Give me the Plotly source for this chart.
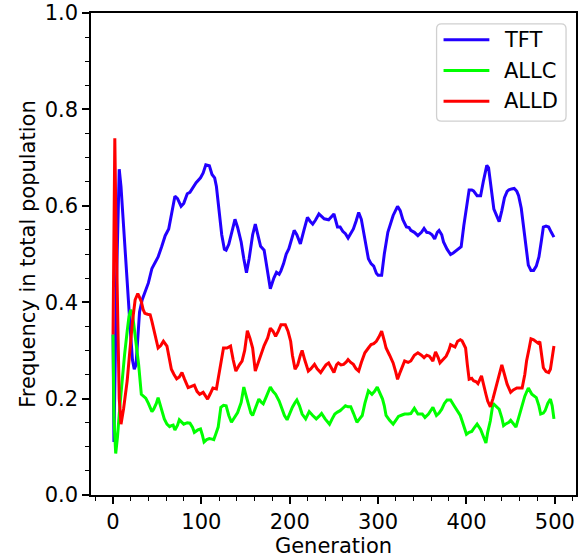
import plotly.graph_objects as go

series_names = ["TFT", "ALLC", "ALLD"]
series_colors = ["#2200ff", "#00ff00", "#ff0000"]

tft_gen = [0,1,4,7,9,13,17,20,22,24,26,28,30,33,36,40,44,48,51,55,59,63,66,70,73,77,80,84,87,91,94,99,102,105,109,112,115,117,120,123,126,128,131,134,138,141,145,148,151,154,158,161,164,167,171,174,178,182,185,188,190,193,196,199,202,205,208,212,216,220,223,226,229,233,236,239,244,247,250,254,257,260,263,266,269,272,275,278,281,283,286,289,292,295,298,300,304,307,311,314,317,322,325,328,332,335,337,341,345,349,352,355,358,361,364,367,369,372,374,378,382,385,388,391,394,397,400,403,406,408,412,416,419,423,425,428,431,434,437,440,443,446,448,451,454,457,459,462,464,467,470,473,476,479,482,485,487,490,493,496,499]
tft_val = [0.333,0.11,0.45,0.676,0.64,0.52,0.40,0.33,0.28,0.261,0.27,0.34,0.38,0.405,0.42,0.44,0.47,0.485,0.494,0.515,0.538,0.552,0.58,0.62,0.615,0.599,0.605,0.625,0.628,0.64,0.648,0.658,0.668,0.685,0.683,0.665,0.658,0.64,0.593,0.54,0.51,0.508,0.52,0.54,0.572,0.555,0.525,0.49,0.461,0.49,0.54,0.562,0.54,0.516,0.508,0.47,0.428,0.45,0.462,0.458,0.465,0.48,0.5,0.511,0.53,0.549,0.54,0.521,0.549,0.576,0.568,0.562,0.57,0.583,0.578,0.573,0.571,0.576,0.583,0.556,0.556,0.547,0.542,0.533,0.542,0.552,0.568,0.586,0.572,0.552,0.52,0.49,0.48,0.475,0.46,0.456,0.456,0.5,0.545,0.565,0.58,0.599,0.59,0.571,0.556,0.555,0.549,0.545,0.538,0.545,0.553,0.545,0.544,0.54,0.531,0.545,0.549,0.54,0.525,0.51,0.499,0.502,0.506,0.51,0.515,0.559,0.6,0.633,0.633,0.631,0.621,0.621,0.65,0.684,0.679,0.63,0.593,0.58,0.567,0.59,0.617,0.63,0.633,0.635,0.636,0.63,0.621,0.595,0.566,0.52,0.477,0.466,0.466,0.475,0.494,0.53,0.556,0.558,0.556,0.545,0.535]

allc_gen = [0,1,3,5,8,10,13,16,18,20,22,24,27,29,32,35,37,40,44,46,49,51,53,56,58,61,64,66,68,70,73,75,78,80,84,87,90,92,96,99,101,103,106,109,112,114,116,119,122,125,128,131,134,137,141,145,148,150,153,156,158,162,165,168,170,173,176,178,181,184,188,191,194,197,200,203,206,208,211,214,218,222,226,230,233,236,240,245,248,251,254,257,260,263,266,269,272,276,279,282,285,289,293,296,299,302,305,307,309,313,317,320,323,327,330,334,337,341,345,350,353,357,362,366,369,372,375,378,382,386,390,393,395,398,400,403,406,409,412,416,419,422,424,427,430,433,437,440,442,445,448,450,452,456,459,463,466,470,474,479,482,484,487,489,492,495,497,499]
allc_val = [0.333,0.16,0.086,0.12,0.19,0.237,0.29,0.34,0.37,0.384,0.375,0.346,0.30,0.27,0.209,0.205,0.201,0.19,0.173,0.178,0.19,0.202,0.19,0.171,0.158,0.147,0.142,0.144,0.145,0.135,0.145,0.156,0.15,0.147,0.15,0.149,0.14,0.130,0.135,0.137,0.125,0.110,0.115,0.117,0.116,0.115,0.125,0.141,0.182,0.186,0.185,0.165,0.151,0.16,0.171,0.192,0.224,0.21,0.189,0.17,0.165,0.185,0.199,0.192,0.189,0.202,0.215,0.224,0.215,0.209,0.195,0.178,0.165,0.156,0.17,0.182,0.192,0.197,0.185,0.168,0.158,0.173,0.165,0.158,0.163,0.169,0.158,0.147,0.158,0.168,0.172,0.175,0.18,0.185,0.183,0.183,0.17,0.151,0.158,0.165,0.19,0.216,0.209,0.215,0.224,0.21,0.199,0.185,0.165,0.155,0.147,0.155,0.163,0.166,0.168,0.168,0.169,0.18,0.168,0.168,0.161,0.168,0.182,0.165,0.17,0.178,0.19,0.197,0.197,0.185,0.175,0.165,0.154,0.138,0.126,0.13,0.132,0.14,0.147,0.136,0.12,0.108,0.13,0.154,0.19,0.185,0.178,0.16,0.144,0.148,0.151,0.155,0.151,0.141,0.16,0.189,0.205,0.222,0.209,0.202,0.185,0.168,0.17,0.175,0.19,0.199,0.185,0.158]

alld_gen = [0,1,2,3,5,7,9,12,16,19,22,25,28,30,32,34,36,39,42,44,46,48,51,54,57,61,63,66,69,72,75,78,81,85,88,92,95,98,102,105,107,110,113,117,120,122,125,129,133,136,139,143,146,149,152,155,158,161,165,168,171,175,178,181,184,187,190,195,198,201,203,206,209,212,214,217,221,224,228,231,235,238,241,244,247,250,253,255,258,261,264,266,269,272,275,278,281,285,289,292,295,298,301,304,307,309,313,317,320,322,325,328,330,334,337,341,345,349,352,355,358,362,365,368,370,373,377,380,382,384,387,390,393,395,399,401,403,406,408,411,413,417,419,422,424,427,430,433,437,440,443,446,450,453,457,460,463,466,468,471,473,476,478,481,483,485,487,490,493,495,497,499]
alld_val = [0.333,0.6,0.74,0.6,0.35,0.2,0.147,0.18,0.237,0.3,0.36,0.405,0.418,0.41,0.401,0.385,0.377,0.375,0.374,0.36,0.343,0.33,0.305,0.31,0.319,0.309,0.29,0.261,0.25,0.241,0.245,0.254,0.24,0.223,0.225,0.228,0.215,0.209,0.213,0.205,0.199,0.21,0.222,0.22,0.25,0.278,0.305,0.305,0.309,0.28,0.257,0.27,0.278,0.3,0.341,0.325,0.305,0.257,0.278,0.298,0.31,0.326,0.346,0.34,0.329,0.34,0.353,0.353,0.34,0.319,0.29,0.261,0.27,0.29,0.30,0.28,0.257,0.262,0.271,0.262,0.254,0.262,0.27,0.274,0.265,0.254,0.27,0.274,0.27,0.271,0.276,0.281,0.275,0.271,0.262,0.257,0.275,0.295,0.305,0.312,0.314,0.319,0.328,0.34,0.32,0.305,0.29,0.274,0.255,0.24,0.255,0.27,0.278,0.275,0.278,0.29,0.295,0.29,0.285,0.29,0.288,0.278,0.297,0.285,0.274,0.28,0.288,0.3,0.312,0.31,0.307,0.319,0.322,0.32,0.305,0.27,0.24,0.242,0.237,0.235,0.231,0.247,0.23,0.209,0.195,0.183,0.2,0.223,0.25,0.27,0.25,0.23,0.213,0.218,0.222,0.222,0.222,0.25,0.278,0.305,0.324,0.322,0.319,0.315,0.318,0.29,0.264,0.256,0.254,0.261,0.285,0.309]

x_ticks = [0, 100, 200, 300, 400, 500]
y_ticks = [0.0, 0.2, 0.4, 0.6, 0.8, 1.0]

gens = [tft_gen, allc_gen, alld_gen]
vals = [tft_val, allc_val, alld_val]

FONT = "DejaVu Sans"
FS = 21
fig = go.Figure()
for name, color, g, v in zip(series_names, series_colors, gens, vals):
    fig.add_trace(go.Scatter(x=g, y=v, mode="lines", name=name,
                             line=dict(color=color, width=3), showlegend=False))

axis_common = dict(showline=True, linecolor="black", linewidth=1.5, mirror=True,
                   ticks="outside", ticklen=7, tickwidth=1.5, tickcolor="black",
                   showgrid=False, zeroline=False, ticklabeloverflow="allow",
                   tickfont=dict(family=FONT, size=FS, color="black"))
fig.update_xaxes(range=[-24.95, 523.95], tickvals=x_ticks,
                 minor=dict(ticks="outside", ticklen=4, tickwidth=1.2, tickcolor="black", dtick=20, tick0=0, showgrid=False),
                 title=dict(text="Generation", font=dict(family=FONT, size=FS, color="black"), standoff=4),
                 **axis_common)
fig.update_yaxes(range=[0, 1], tickvals=y_ticks, tickformat=".1f",
                 minor=dict(ticks="outside", ticklen=4, tickwidth=1.2, tickcolor="black", dtick=0.05, tick0=0, showgrid=False),
                 title=dict(text="Frequency in total population", font=dict(family=FONT, size=FS, color="black"), standoff=3),
                 **axis_common)

# legend drawn in paper coordinates
L, T, W, H = 91, 9, 487, 486
def px2x(px):
    return (px - L) / W
def py2y(py):
    return (T + H - py) / H

x0, x1, y0, y1, r = 438, 568, 20, 118, 5
path = (f"M {px2x(x0+r)},{py2y(y0)} L {px2x(x1-r)},{py2y(y0)} Q {px2x(x1)},{py2y(y0)} {px2x(x1)},{py2y(y0+r)} "
        f"L {px2x(x1)},{py2y(y1-r)} Q {px2x(x1)},{py2y(y1)} {px2x(x1-r)},{py2y(y1)} "
        f"L {px2x(x0+r)},{py2y(y1)} Q {px2x(x0)},{py2y(y1)} {px2x(x0)},{py2y(y1-r)} "
        f"L {px2x(x0)},{py2y(y0+r)} Q {px2x(x0)},{py2y(y0)} {px2x(x0+r)},{py2y(y0)} Z")
fig.add_shape(type="path", path=path, xref="paper", yref="paper",
              line=dict(color="#d0d0d0", width=1.3), fillcolor="rgba(255,255,255,0.85)")
rows = [36, 67, 98]
for name, color, ry in zip(series_names, series_colors, rows):
    fig.add_shape(type="line", xref="paper", yref="paper",
                  x0=px2x(445), x1=px2x(491), y0=py2y(ry), y1=py2y(ry),
                  line=dict(color=color, width=3))
    fig.add_annotation(x=px2x(504), y=py2y(ry), xref="paper", yref="paper",
                       text=name, showarrow=False, xanchor="left", yanchor="middle",
                       font=dict(family=FONT, size=FS, color="black"))

fig.update_layout(width=579, height=560, margin=dict(l=L, r=1, t=T, b=65),
                  paper_bgcolor="white", plot_bgcolor="white", showlegend=False)
fig.write_html("out.html")
